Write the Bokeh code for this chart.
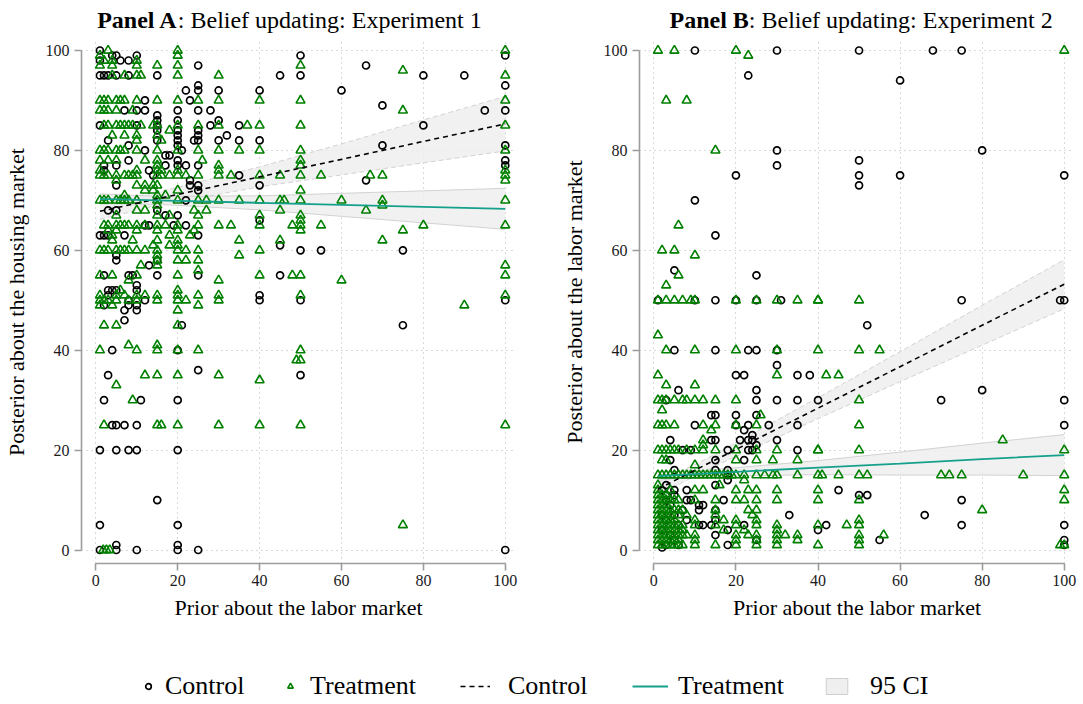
from bokeh.plotting import figure
from bokeh.models import Range1d, Legend, LegendItem, FixedTicker
from bokeh.core.properties import value
from bokeh.layouts import column, row
from bokeh.embed import file_html
from bokeh.resources import INLINE

FONT = "Liberation Serif"
GREEN = "#008000"
TEAL = "#15a08b"
BLACK = "#000000"

# ---------------- Panel A data (prior, posterior) ----------------
a_control = [
    (1, 100), (4, 99), (5, 99), (10, 99), (1, 98), (6, 98), (8, 98), (25, 97),
    (1, 95), (2, 95), (3, 95), (5, 95), (8, 95), (15, 95),
    (25, 93), (22, 92), (25, 92), (30, 92), (12, 90), (23, 90),
    (7, 88), (10, 88), (12, 88), (20, 88), (25, 88), (28, 88),
    (15, 87), (15, 86), (20, 86), (30, 86),
    (1, 85), (10, 85), (15, 85), (28, 85), (35, 85),
    (15, 84), (20, 84), (25, 84), (20, 83), (25, 83), (32, 83),
    (3, 82), (15, 82), (20, 82), (24, 82), (25, 82), (30, 82), (35, 82),
    (8, 81), (20, 81), (12, 80), (21, 80), (17, 79), (18, 79), (8, 78), (20, 78),
    (2, 77), (5, 77), (17, 77), (20, 77), (22, 77), (25, 77),
    (2, 76), (13, 76), (14, 75), (35, 75), (23, 74), (5, 73), (23, 73), (25, 73), (25, 72), (22, 70),
    (3, 68), (5, 68), (15, 68), (17, 67), (20, 67),
    (12, 65), (13, 65), (19, 65), (22, 65),
    (1, 63), (2, 63), (3, 63), (7, 63), (25, 63),
    (5, 59), (5, 58), (15, 58), (13, 57),
    (2, 55), (8, 55), (9, 55), (15, 55), (25, 55), (10, 53),
    (3, 52), (4, 52), (5, 52), (10, 52), (3, 51),
    (8, 50), (12, 50), (2, 49), (8, 49), (10, 49), (7, 48), (10, 48), (7, 46), (21, 45),
    (4, 40), (20, 40), (25, 36), (3, 35), (2, 30), (11, 30), (20, 30),
    (4, 25), (5, 25), (7, 25), (10, 25),
    (1, 20), (5, 20), (8, 20), (10, 20), (20, 20),
    (15, 10), (1, 5), (20, 5), (5, 1), (20, 1), (1, 0), (5, 0), (10, 0), (20, 0), (25, 0),
    (50, 99), (45, 95), (50, 95), (66, 97), (80, 95), (90, 95), (100, 99), (100, 93), (40, 92), (60, 92),
    (70, 89), (95, 88), (100, 88), (80, 85), (40, 82), (70, 81), (100, 81), (100, 78), (100, 77),
    (40, 73), (66, 74), (40, 66), (45, 61), (50, 60), (55, 60), (75, 60), (45, 55), (40, 51), (40, 50),
    (50, 50), (100, 50), (75, 45), (50, 35), (100, 0),
]

a_treatment = [
    (3, 100), (20, 100), (1, 99), (20, 99), (2, 98), (4, 98), (10, 98),
    (1, 97), (4, 97), (10, 97), (15, 97), (20, 97),
    (4, 95), (7, 95), (10, 95), (11, 95), (20, 95), (30, 95),
    (1, 90), (2, 90), (3, 90), (5, 90), (6, 90), (7, 90), (10, 90), (15, 90), (20, 90), (25, 90), (30, 90),
    (1, 88), (2, 88), (3, 88), (5, 88), (9, 88),
    (2, 85), (3, 85), (5, 85), (6, 85), (7, 85), (8, 85), (9, 85), (11, 85), (14, 85), (15, 85),
    (20, 85), (25, 85), (30, 85), (37, 85),
    (18, 84), (4, 83), (7, 83), (10, 83), (15, 83), (10, 82), (16, 82),
    (1, 80), (2, 80), (3, 80), (5, 80), (6, 80), (7, 80), (10, 80), (15, 80), (20, 80), (25, 80), (30, 80), (35, 80),
    (1, 78), (3, 78), (5, 78), (12, 78), (15, 78), (26, 78), (15, 77), (30, 77),
    (1, 76), (10, 76), (15, 76), (16, 76), (20, 76), (30, 76),
    (1, 75), (2, 75), (3, 75), (5, 75), (7, 75), (8, 75), (9, 75), (10, 75), (15, 75), (16, 75),
    (18, 75), (20, 75), (22, 75), (25, 75), (30, 75), (33, 75),
    (5, 74), (10, 73), (12, 73), (14, 73), (15, 73), (12, 72), (14, 72), (20, 72), (7, 71), (15, 71), (17, 71),
    (1, 70), (2, 70), (3, 70), (5, 70), (6, 70), (7, 70), (8, 70), (10, 70), (15, 70), (20, 70),
    (25, 70), (27, 70), (30, 70), (35, 70),
    (15, 69), (10, 68), (12, 68), (24, 68), (27, 68), (5, 67), (15, 67), (18, 67), (25, 67),
    (2, 65), (3, 65), (5, 65), (6, 65), (7, 65), (8, 65), (10, 65), (12, 65), (15, 65), (17, 65),
    (20, 65), (25, 65), (30, 65), (33, 65),
    (3, 64), (5, 64), (10, 64), (15, 64), (20, 64), (24, 64), (4, 63), (18, 63), (23, 63),
    (4, 62), (9, 62), (15, 62), (20, 62), (35, 62), (14, 61), (18, 61), (20, 61),
    (1, 60), (2, 60), (3, 60), (5, 60), (6, 60), (7, 60), (8, 60), (10, 60), (12, 60), (15, 60),
    (20, 60), (22, 60), (25, 60),
    (15, 59), (35, 59), (15, 58), (20, 58), (22, 58), (25, 58), (11, 57), (15, 57), (25, 56),
    (1, 55), (4, 55), (10, 55), (20, 55), (8, 54), (30, 54), (6, 52), (20, 52),
    (1, 51), (5, 51), (7, 51), (10, 51), (12, 51), (15, 51), (20, 51), (25, 51), (30, 51),
    (1, 50), (2, 50), (3, 50), (5, 50), (8, 50), (10, 50), (15, 50), (20, 50), (22, 50), (30, 50),
    (1, 49), (4, 49), (25, 49), (20, 48), (2, 45), (5, 45), (20, 45), (8, 41), (15, 41),
    (1, 40), (10, 40), (15, 40), (20, 40), (25, 40),
    (12, 35), (15, 35), (20, 35), (30, 35), (5, 33), (9, 30),
    (2, 25), (15, 25), (16, 25), (20, 25), (30, 25),
    (1.8, 0), (2.6, 0), (3.4, 0),
    (50, 97), (75, 96), (100, 100), (100, 95), (40, 90), (50, 90), (75, 88), (100, 90),
    (40, 85), (50, 85), (100, 85), (40, 80), (50, 80), (100, 80), (50, 78), (50, 77),
    (40, 75), (45, 75), (50, 75), (55, 75), (67, 75), (70, 75), (100, 76), (100, 75), (100, 74),
    (50, 72), (40, 70), (45, 70), (46, 70), (50, 70), (60, 70), (70, 70), (70, 69), (100, 70),
    (45, 68), (66, 68), (40, 67), (40, 65), (50, 67), (50, 66), (50, 65), (50, 64), (48, 65),
    (55, 65), (75, 64), (80, 65), (100, 65),
    (45, 62), (70, 62), (40, 60), (40, 55), (48, 55), (50, 55), (60, 54), (100, 57), (100, 55),
    (50, 51), (90, 49), (100, 51),
    (50, 40), (49, 38), (50, 38), (40, 34), (40, 25), (50, 25), (100, 25), (75, 5),
]

# fitted lines and 95% CI
a_ctrl_fit_x = [1, 15, 40, 60, 80, 100]
a_ctrl_fit = [67.8, 70.3, 74.7, 78.2, 81.8, 85.3]
a_ctrl_lo = [66.2, 69.0, 72.7, 75.1, 77.5, 79.9]
a_ctrl_hi = [69.4, 71.6, 76.7, 81.3, 86.1, 90.8]

a_treat_fit_x = [1, 15, 40, 60, 80, 100]
a_treat_fit = [70.3, 70.0, 69.5, 69.1, 68.7, 68.3]
a_treat_lo = [69.3, 69.2, 68.1, 66.8, 65.5, 64.2]
a_treat_hi = [71.3, 70.8, 70.9, 71.4, 71.9, 72.4]

# ---------------- Panel B data ----------------
b_control = [
    (10, 100), (30, 100), (23, 95), (30, 80), (30, 77), (20, 75), (10, 70), (15, 63), (5, 56), (25, 55),
    (1, 50), (15, 50), (25, 50), (31, 50), (10, 50), (20, 50),
    (5, 40), (15, 40), (23, 40), (25, 40), (30, 40), (30, 37), (20, 35), (22, 35), (35, 35), (38, 35),
    (6, 32), (25, 32), (3, 30), (25, 30), (30, 30), (35, 30), (14, 27), (15, 27), (20, 27), (25, 27),
    (10, 25), (20, 25), (23, 25), (28, 25), (35, 25), (22, 24), (24, 23),
    (4, 22), (14, 22), (15, 22), (21, 22), (23, 22), (24, 22), (30, 22), (25, 21),
    (7, 20), (9, 20), (18, 20), (23, 20), (24, 20), (35, 20),
    (4, 18), (15, 18), (22, 18), (5, 16), (15, 16), (18, 16), (18, 15), (18, 14),
    (3, 13), (15, 13), (5, 12), (8, 12), (3, 11), (5, 11), (8, 10), (9, 10), (17, 10),
    (11, 9), (12, 9), (7, 8), (11, 8), (15, 8), (33, 7), (8, 6), (15, 6),
    (11, 5), (12, 5), (14, 5), (22, 5), (18, 4), (15, 3), (25, 2), (18, 1),
    (2, 12), (3, 10), (4, 9), (2, 7), (5, 7), (3, 6), (6, 5), (2, 4), (4, 3), (5, 2), (3, 1), (6, 1), (2, 0.5),
    (50, 100), (68, 100), (75, 100), (60, 94), (80, 80), (50, 78), (50, 75), (60, 75), (50, 73), (100, 75),
    (75, 50), (99, 50), (100, 50), (52, 45), (40, 30), (70, 30), (80, 32), (100, 30), (100, 25),
    (45, 12), (50, 11), (52, 11), (66, 7), (75, 10), (75, 5), (42, 5), (40, 4), (55, 2),
    (100, 5), (100, 2), (100, 1),
]

b_treatment = [
    (1, 100), (5, 100), (20, 100), (23, 99), (3, 90), (8, 90), (15, 80), (6, 65), (2, 60), (5, 60),
    (10, 59), (6, 55), (3, 53),
    (1, 50), (3, 50), (5, 50), (7, 50), (9, 50), (10, 50), (20, 50), (25, 50), (30, 50), (35, 50), (40, 50),
    (1, 43), (3, 40), (10, 40), (20, 40), (30, 40), (1, 35), (30, 35), (3, 33), (10, 33),
    (1, 30), (2, 30), (3, 30), (5, 30), (7, 30), (8, 30), (10, 30), (12, 30), (15, 30), (20, 30),
    (2, 28), (26, 27),
    (1, 25), (2, 25), (3, 25), (5, 25), (12, 25), (15, 25), (20, 25), (25, 25), (14, 24), (12, 22), (12, 21),
    (1, 20), (2, 20), (3, 20), (4, 20), (5, 20), (6, 20), (8, 20), (10, 20), (12, 20), (15, 20),
    (20, 20), (25, 20), (30, 20), (40, 20),
    (2, 18), (3, 18), (20, 18), (25, 18), (29, 18), (35, 18), (10, 17),
    (1, 15), (2, 15), (3, 15), (4, 15), (5, 15), (6, 15), (7, 15), (8, 15), (9, 15), (10, 15),
    (11, 15), (12, 15), (13, 15), (14, 15), (15, 15), (16, 15), (17, 15), (18, 15), (19, 15),
    (20, 15), (22, 15), (25, 15), (27, 15), (29, 15), (30, 15), (35, 15),
    (22, 14), (1, 13), (16, 13),
    (1, 12), (10, 12), (12, 12), (20, 12), (23, 12), (25, 12), (30, 12),
    (1, 10), (2, 10), (3, 10), (4, 10), (6, 10), (10, 10), (15, 10), (20, 10), (22, 10), (25, 10), (30, 10),
    (1, 8), (2, 8), (3, 8), (4, 8), (5, 8), (6, 8), (7, 8), (15, 8), (23, 8), (25, 8),
    (1, 7), (2, 7), (3, 7), (4, 7), (6, 7), (8, 7), (15, 7), (24, 7),
    (1, 6), (2, 6), (3, 6), (4, 6), (5, 6), (10, 6), (17, 6), (20, 6), (25, 6),
    (1, 5), (2, 5), (3, 5), (4, 5), (5, 5), (6, 5), (7, 5), (10, 5), (15, 5), (20, 5), (25, 5), (30, 5),
    (1, 4), (2, 4), (3, 4), (4, 4), (5, 4), (6, 4), (7, 4), (17, 4), (22, 4), (30, 4),
    (1, 3), (2, 3), (3, 3), (4, 3), (5, 3), (6, 3), (7, 3), (8, 3), (10, 3), (20, 3), (23, 3),
    (25, 3), (30, 3), (32, 3), (35, 3),
    (1, 2), (2, 2), (3, 2), (4, 2), (5, 2), (6, 2), (10, 2), (20, 2), (25, 2), (30, 2), (35, 2),
    (1, 1), (2, 1), (3, 1), (4, 1), (5, 1), (6, 1), (7, 1), (10, 1), (15, 1), (20, 1), (25, 1), (30, 1),
    (1, 11), (2, 11), (3, 11), (1, 9), (2, 9), (3, 9), (4, 12), (5, 10),
    (100, 100), (40, 50), (50, 50), (40, 40), (50, 40), (55, 40), (42, 35), (45, 35), (50, 30), (50, 25),
    (40, 20), (50, 20), (85, 22), (100, 20),
    (40, 15), (41, 15), (45, 15), (50, 15), (52, 15), (70, 15), (72, 15), (75, 15), (90, 15), (100, 15),
    (40, 12), (40, 10), (50, 10), (80, 8), (100, 12), (100, 10), (40, 5), (47, 5), (50, 6), (50, 5),
    (50, 3), (50, 2), (50, 1), (56, 3), (40, 1), (99, 1), (100, 1),
]

b_ctrl_fit_x = [1, 12, 40, 60, 80, 100]
b_ctrl_fit = [12.2, 16.8, 28.4, 36.7, 45.0, 53.2]
b_ctrl_lo = [10.9, 15.7, 26.3, 33.7, 41.0, 48.3]
b_ctrl_hi = [13.5, 17.9, 30.5, 39.7, 49.0, 58.1]

b_treat_fit_x = [1, 12, 40, 60, 80, 100]
b_treat_fit = [14.8, 15.3, 16.5, 17.3, 18.2, 19.0]
b_treat_lo = [14.0, 14.7, 15.1, 15.0, 15.0, 14.9]
b_treat_hi = [15.6, 15.9, 17.9, 19.6, 21.4, 23.1]

axis_ticks = [0, 20, 40, 60, 80, 100]
x_label = "Prior about the labor market"
titles_bold = ["Panel A", "Panel B"]
titles_rest = [": Belief updating: Experiment 1", ": Belief updating: Experiment 2"]
legend_labels = ["Control", "Treatment", "Control", "Treatment", "95 CI"]

X_RANGE = (-3.5, 102.5)
Y_RANGE = (-2.7, 102.0)
TITLE_SIZE = 24
TITLE_H = 40
PANEL_H = 593
LEG_H = 69
A_W, B_W = 545, 536


def style_axes(p):
    ticker = FixedTicker(ticks=axis_ticks)
    p.xaxis.ticker = ticker
    p.yaxis.ticker = ticker
    for axes in (p.xaxis, p.yaxis):
        axes.bounds = (0, 100)
        axes.axis_line_color = "#9c9c9c"
        axes.axis_line_width = 1.6
        axes.major_tick_line_color = "#9c9c9c"
        axes.major_tick_line_width = 1.6
        axes.major_tick_out = 7
        axes.major_tick_in = 0
        axes.minor_tick_line_color = None
        axes.major_label_text_font = FONT
        axes.major_label_text_font_size = "16px"
        axes.major_label_text_color = "#1a1a1a"
        axes.axis_label_text_font = FONT
        axes.axis_label_text_font_size = "22px"
        axes.axis_label_text_font_style = "normal"
        axes.axis_label_text_color = "#000000"
    p.xaxis.major_label_standoff = 4
    p.yaxis.major_label_standoff = 5
    p.xaxis.axis_label_standoff = 6
    p.yaxis.axis_label_standoff = 14
    p.xgrid.ticker = ticker
    p.ygrid.ticker = ticker
    for g in (p.xgrid[0], p.ygrid[0]):
        g.grid_line_color = "#b5b5b5"
        g.grid_line_dash = "1 4"
        g.grid_line_width = 1


def make_panel(ylabel, ctrl, treat, cfit, tfit, width, mbl, mbr):
    p = figure(width=width, height=PANEL_H, x_range=Range1d(*X_RANGE), y_range=Range1d(*Y_RANGE),
               output_backend="svg", toolbar_location=None,
               min_border_left=mbl, min_border_right=mbr, min_border_top=0, min_border_bottom=70,
               x_axis_label=x_label, y_axis_label=ylabel)
    p.outline_line_color = None
    style_axes(p)

    for (fx, fy, lo, hi), dash in ((cfit, "5 3"), (tfit, "solid")):
        p.varea(x=fx, y1=lo, y2=hi, fill_color="#ededed", fill_alpha=0.8)
        p.line(fx, lo, line_color="#d2d2d2", line_width=1, line_dash=dash)
        p.line(fx, hi, line_color="#d2d2d2", line_width=1, line_dash=dash)

    cx = [v[0] for v in ctrl]
    cy = [v[1] for v in ctrl]
    tx = [v[0] for v in treat]
    ty = [v[1] for v in treat]
    p.scatter(cx, cy, marker="circle", size=7, fill_color=None, line_color=BLACK, line_width=1.7)
    p.scatter(tx, ty, marker="triangle", size=9, fill_color=None, line_color=GREEN, line_width=1.6)

    p.line(cfit[0], cfit[1], line_color=BLACK, line_width=1.6, line_dash="5 4")
    p.line(tfit[0], tfit[1], line_color=TEAL, line_width=1.8)
    return p


pA = make_panel("Posterior about the housing market", a_control, a_treatment,
                (a_ctrl_fit_x, a_ctrl_fit, a_ctrl_lo, a_ctrl_hi),
                (a_treat_fit_x, a_treat_fit, a_treat_lo, a_treat_hi),
                width=A_W, mbl=80, mbr=30)
pB = make_panel("Posterior about the labor market", b_control, b_treatment,
                (b_ctrl_fit_x, b_ctrl_fit, b_ctrl_lo, b_ctrl_hi),
                (b_treat_fit_x, b_treat_fit, b_treat_lo, b_treat_hi),
                width=B_W, mbl=94, mbr=B_W - 94 - 435)

# ---------------- title strip (pixel coordinates, y measured upward) ----------------
tt = figure(width=A_W + B_W, height=TITLE_H, output_backend="svg", toolbar_location=None,
            x_range=Range1d(0, A_W + B_W), y_range=Range1d(0, TITLE_H), min_border=0,
            x_axis_type=None, y_axis_type=None)
tt.outline_line_color = None
tt.grid.visible = False
centres = [289, 860]
bold_w = 3.361 * TITLE_SIZE
total_w = 16.03 * TITLE_SIZE
splits = [c - total_w / 2 + bold_w for c in centres]
ty_mid = [21, 21]
tt.text(x=splits, y=ty_mid, text=titles_bold, text_font=value(FONT), text_font_size=f"{TITLE_SIZE}px",
        text_font_style="bold", text_align="right", text_baseline="middle", text_color="#000000")
tt.text(x=splits, y=ty_mid, text=titles_rest, text_font=value(FONT), text_font_size=f"{TITLE_SIZE}px",
        text_align="left", text_baseline="middle", text_color="#000000")

# ---------------- legend strip ----------------
# renderers reuse the panel A data but sit far outside the visible range
leg = figure(width=A_W + B_W, height=LEG_H, output_backend="svg", toolbar_location=None,
             x_range=Range1d(1000, 1001), y_range=Range1d(1000, 1001), min_border=0,
             x_axis_type=None, y_axis_type=None)
leg.outline_line_color = None
leg.grid.visible = False
r1 = leg.scatter([v[0] for v in a_control], [v[1] for v in a_control], marker="circle", size=7,
                 fill_color=None, line_color=BLACK, line_width=1.7)
r2 = leg.scatter([v[0] for v in a_treatment], [v[1] for v in a_treatment], marker="triangle", size=9,
                 fill_color=None, line_color=GREEN, line_width=1.6)
r3 = leg.line(a_ctrl_fit_x, a_ctrl_fit, line_color=BLACK, line_width=1.6, line_dash="5 4")
r4 = leg.line(a_treat_fit_x, a_treat_fit, line_color=TEAL, line_width=1.8)
r5 = leg.patch(a_ctrl_fit_x + a_ctrl_fit_x[::-1], a_ctrl_lo + a_ctrl_hi[::-1],
               fill_color="#efefef", line_color="#cfcfcf", line_width=1)

legend_pos = [(141, 14, 10), (283, 14, 13), (460, 30, 18), (632, 36, 10), (823, 27, 20)]
for r, lab, (x, gw, so) in zip([r1, r2, r3, r4, r5], legend_labels, legend_pos):
    lg = Legend(items=[LegendItem(label=lab, renderers=[r])], location=(x, 1),
                orientation="horizontal", glyph_width=gw, glyph_height=20, label_standoff=so,
                padding=0, margin=0, spacing=0, border_line_color=None, background_fill_alpha=0,
                label_text_font=FONT, label_text_font_size="26px", label_text_color="#000000")
    leg.add_layout(lg)

layout = column(tt, row(pA, pB), leg)
open("out.html", "w").write(file_html(layout, INLINE, title="Belief updating"))
